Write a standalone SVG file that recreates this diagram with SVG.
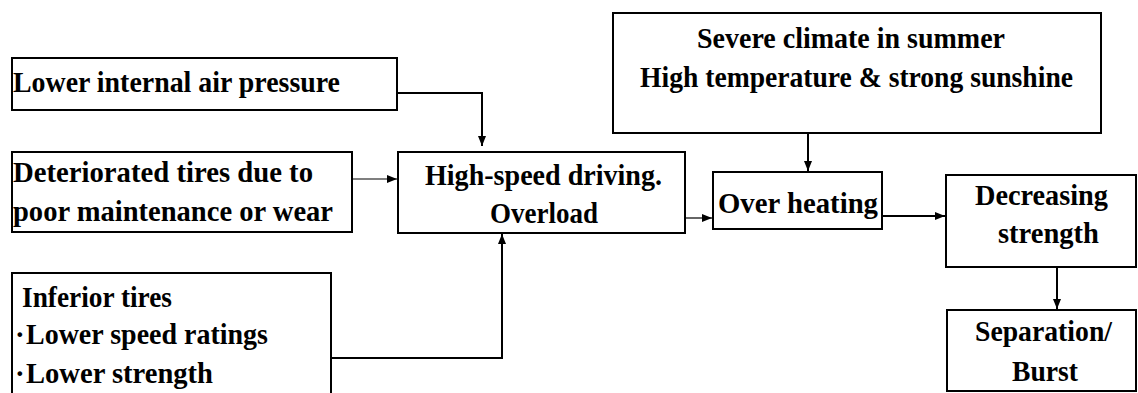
<svg xmlns="http://www.w3.org/2000/svg" width="1138" height="393" viewBox="0 0 1138 393">
<style>
.box{fill:#fff;stroke:#000;stroke-width:2}
.t{font-family:'Liberation Serif','DejaVu Serif',serif;font-weight:bold;font-size:29px;fill:#000}
.c{stroke:#000;stroke-width:2;fill:none}
.thin{stroke:#000;stroke-width:1.2;fill:none}
</style>
<defs>
<marker id="ah" viewBox="0 0 10 8" refX="10" refY="4" markerWidth="10" markerHeight="8" markerUnits="userSpaceOnUse" orient="auto">
<path d="M0,0 L10,4 L0,8 Z" fill="#000"/>
</marker>
</defs>
<rect width="1138" height="393" fill="#fff"/>
<g id="connectors">
<polyline class="c" points="397,93 482,93 482,146" marker-end="url(#ah)"/>
<line class="thin" x1="343" y1="179" x2="397" y2="179" marker-end="url(#ah)"/>
<polyline class="c" points="331,358 502,358 502,234" marker-end="url(#ah)"/>
<line class="c" x1="808" y1="133" x2="808" y2="171" marker-end="url(#ah)"/>
<line class="thin" x1="685" y1="218" x2="712" y2="218" marker-end="url(#ah)"/>
<line class="c" x1="882" y1="216" x2="945" y2="216" marker-end="url(#ah)"/>
<line class="c" x1="1057" y1="267" x2="1057" y2="309" marker-end="url(#ah)"/>
</g>
<g id="n-air">
<rect class="box" x="12" y="58" width="385" height="52"/>
<text class="t" x="13" y="92" textLength="327" lengthAdjust="spacingAndGlyphs">Lower internal air pressure</text>
</g>
<g id="n-deteriorated">
<rect class="box" x="12" y="152" width="340" height="80"/>
<text class="t" x="13" y="182" textLength="300" lengthAdjust="spacingAndGlyphs">Deteriorated tires due to</text>
<text class="t" x="13" y="221" textLength="320" lengthAdjust="spacingAndGlyphs">poor maintenance or wear</text>
</g>
<g id="n-inferior">
<rect class="box" x="12" y="273" width="319" height="130"/>
<text class="t" x="22" y="307" textLength="150" lengthAdjust="spacingAndGlyphs">Inferior tires</text>
<text class="t" x="15" y="344">·</text>
<text class="t" x="26" y="344" textLength="242" lengthAdjust="spacingAndGlyphs">Lower speed ratings</text>
<text class="t" x="15" y="383">·</text>
<text class="t" x="26" y="383" textLength="187" lengthAdjust="spacingAndGlyphs">Lower strength</text>
</g>
<g id="n-highspeed">
<rect class="box" x="398" y="152" width="287" height="81"/>
<text class="t" x="425" y="185" textLength="237" lengthAdjust="spacingAndGlyphs">High-speed driving.</text>
<text class="t" x="490" y="223" textLength="108" lengthAdjust="spacingAndGlyphs">Overload</text>
</g>
<g id="n-climate">
<rect class="box" x="613" y="13" width="488" height="120"/>
<text class="t" x="697" y="48" textLength="308" lengthAdjust="spacingAndGlyphs">Severe climate in summer</text>
<text class="t" x="640" y="87" textLength="433" lengthAdjust="spacingAndGlyphs">High temperature &amp; strong sunshine</text>
</g>
<g id="n-overheating">
<rect class="box" x="713" y="172" width="169" height="57"/>
<text class="t" x="718" y="213" textLength="160" lengthAdjust="spacingAndGlyphs">Over heating</text>
</g>
<g id="n-decreasing">
<rect class="box" x="946" y="175" width="190" height="92"/>
<text class="t" x="975" y="205" textLength="133" lengthAdjust="spacingAndGlyphs">Decreasing</text>
<text class="t" x="998" y="243" textLength="101" lengthAdjust="spacingAndGlyphs">strength</text>
</g>
<g id="n-separation">
<rect class="box" x="947" y="310" width="189" height="81"/>
<text class="t" x="975" y="341" textLength="137" lengthAdjust="spacingAndGlyphs">Separation/</text>
<text class="t" x="1012" y="381" textLength="66" lengthAdjust="spacingAndGlyphs">Burst</text>
</g>
</svg>
